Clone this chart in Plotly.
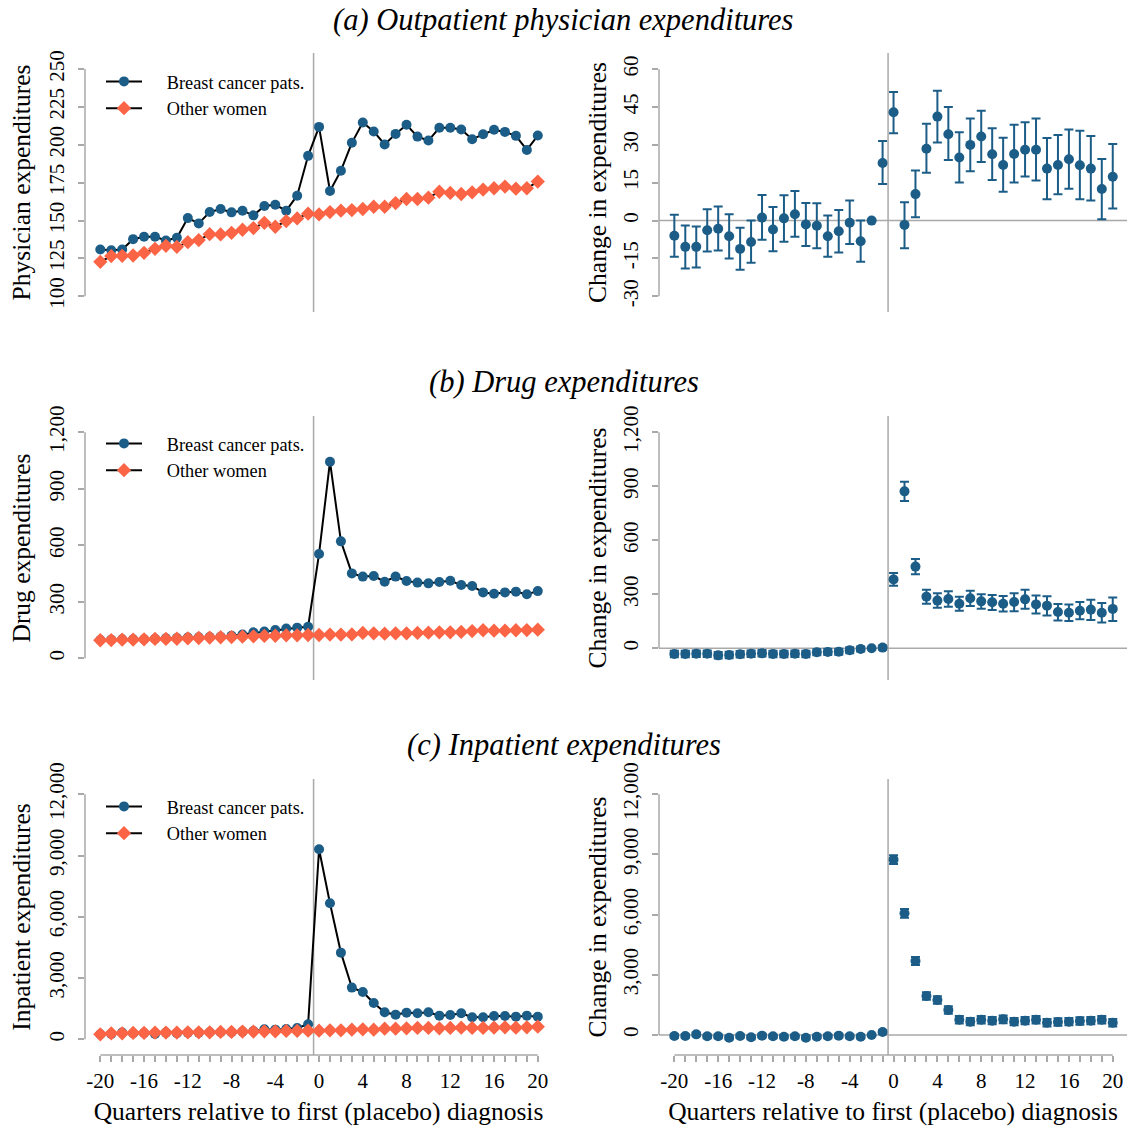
import plotly.graph_objects as go
from plotly.subplots import make_subplots

# quarters relative to first (placebo) diagnosis
quarters = list(range(-20, 21))

# (a) outpatient physician expenditures
phys_bc = [130.9, 130.4, 130.9, 137.7, 139.3, 139.3, 136.8, 138.6, 151.6, 148.1, 155.6, 157.6, 155.4, 156.5,
           153.4, 159.6, 160.4, 156.5, 166.4, 192.7, 211.8, 169.5, 182.9, 201.3, 214.7, 208.8, 200.2, 207.2,
           213.2, 205.4, 202.8, 211.2, 211.2, 210.1, 203.7, 207.0, 209.9, 208.5, 205.9, 196.6, 206.1]
phys_other = [122.7, 126.5, 126.7, 126.9, 128.7, 131.3, 133.3, 132.6, 135.7, 137.1, 141.0, 140.8, 141.9, 143.9,
              145.0, 148.5, 145.9, 149.6, 151.4, 154.5, 154.0, 155.6, 156.5, 156.9, 157.6, 159.1, 159.1, 161.5,
              164.2, 164.2, 165.1, 169.0, 168.2, 167.5, 168.6, 170.4, 171.3, 172.4, 171.0, 171.3, 175.7]
phys_est = [-6.0, -10.4, -10.4, -3.8, -3.2, -6.2, -11.2, -8.5, 1.2, -3.5, 0.9, 2.5, -1.5, -2.0, -6.2, -4.2,
            -0.8, -8.2, 0.0, 22.8, 42.9, -1.7, 10.5, 28.5, 41.2, 34.2, 25.0, 30.0, 33.3, 26.3, 22.0, 26.4,
            28.1, 28.1, 20.6, 22.0, 24.3, 21.9, 20.6, 12.5, 17.4]
phys_hi = [2.3, -1.9, -2.3, 4.5, 5.6, 2.5, -2.8, 0.0, 10.1, 5.4, 10.0, 11.7, 7.0, 6.9, 2.0, 4.2, 8.0, 0.0,
           None, 31.5, 51.0, 7.3, 19.9, 38.4, 51.4, 45.0, 35.0, 40.5, 43.5, 36.6, 32.8, 38.0, 39.0, 40.5,
           32.7, 33.9, 36.1, 35.6, 33.5, 24.4, 30.4]
phys_lo = [-14.3, -19.0, -18.6, -12.2, -11.8, -15.0, -19.5, -16.7, -7.6, -12.1, -8.4, -6.4, -10.1, -10.9,
           -14.3, -12.6, -9.3, -16.3, None, 14.5, 34.6, -10.9, 1.3, 19.0, 30.9, 24.0, 15.1, 19.6, 23.2, 16.1,
           11.4, 15.1, 17.5, 15.9, 8.5, 10.4, 12.6, 8.5, 8.0, 0.5, 4.8]

# (b) drug expenditures
drug_bc = [97, 99, 101, 101, 101, 104, 106, 108, 110, 112, 113, 115, 120, 127, 138, 142, 150, 158, 163, 168,
           554, 1044, 621, 451, 434, 437, 407, 434, 411, 402, 398, 405, 412, 389, 384, 350, 343, 350, 354,
           340, 357]
drug_other = [96, 97, 99, 99, 101, 103, 103, 104, 106, 108, 110, 112, 113, 115, 117, 119, 120, 122, 122, 124,
              124, 126, 126, 127, 135, 133, 131, 133, 133, 135, 136, 138, 138, 140, 145, 149, 147, 147, 149,
              150, 152]
drug_est = [-31, -31, -30, -30, -39, -37, -33, -30, -28, -31, -31, -30, -31, -22, -20, -19, -11, -4, 0, 4,
            383, 872, 454, 287, 265, 274, 248, 278, 261, 256, 248, 257, 272, 244, 237, 202, 198, 209, 215,
            198, 219]
drug_hi = [-13, -13, -12, -12, -21, -19, -15, -12, -10, -13, -13, -12, -13, -5, -3, -2, 6, 10, None, 16,
           419, 926, 496, 326, 306, 317, 287, 320, 300, 296, 291, 306, 326, 294, 289, 246, 244, 257, 270,
           252, 283]
drug_lo = [-49, -49, -48, -48, -57, -55, -51, -48, -46, -49, -49, -48, -49, -39, -37, -36, -28, -18, None, -8,
           348, 819, 411, 248, 226, 231, 209, 235, 220, 213, 204, 206, 220, 194, 183, 154, 152, 161, 157,
           144, 152]

# (c) inpatient expenditures
inpat_bc = [245, 261, 327, 294, 310, 261, 327, 294, 327, 327, 343, 343, 343, 376, 408, 490, 473, 506, 555, 735,
            9306, 6661, 4245, 2531, 2318, 1780, 1322, 1208, 1306, 1273, 1322, 1159, 1192, 1273, 1078, 1078,
            1143, 1143, 1110, 1159, 1110]
inpat_other = [245, 294, 294, 310, 310, 327, 327, 327, 343, 343, 343, 359, 359, 376, 376, 392, 392, 408, 408,
               424, 424, 441, 441, 473, 490, 473, 522, 522, 539, 555, 555, 539, 555, 571, 555, 555, 571, 588,
               571, 588, 620]
inpat_est = [-50, -50, 33, -66, -66, -133, -50, -116, -33, -66, -83, -66, -133, -83, -66, -33, -66, -83, 0, 150,
             8742, 6066, 3690, 1944, 1745, 1246, 764, 665, 764, 715, 781, 665, 715, 764, 615, 648, 665, 698,
             715, 764, 615]
inpat_hi = [40, 40, 123, 24, 24, -43, 40, -26, 57, 24, 7, 24, -43, 7, 24, 57, 24, 7, None, 240,
            8958, 6280, 3890, 2130, 1930, 1430, 950, 850, 950, 900, 970, 850, 900, 950, 800, 835, 850, 885,
            900, 950, 800]
inpat_lo = [-140, -140, -57, -156, -156, -223, -140, -206, -123, -156, -173, -156, -223, -173, -156, -123,
            -156, -173, None, 60, 8526, 5850, 3490, 1760, 1560, 1060, 578, 480, 578, 530, 592, 480, 530, 578,
            430, 461, 480, 511, 530, 578, 430]

panel_titles = ["(a) Outpatient physician expenditures", "(b) Drug expenditures", "(c) Inpatient expenditures"]
level_titles = ["Physician expenditures", "Drug expenditures", "Inpatient expenditures"]
change_title = "Change in expenditures"
x_title = "Quarters relative to first (placebo) diagnosis"
series_names = ["Breast cancer pats.", "Other women"]

left_ticks = [[100, 125, 150, 175, 200, 225, 250], [0, 300, 600, 900, 1200], [0, 3000, 6000, 9000, 12000]]
right_ticks = [[-30, -15, 0, 15, 30, 45, 60], [0, 300, 600, 900, 1200], [0, 3000, 6000, 9000, 12000]]

BLUE = "#1c5d88"
ORANGE = "#fc6446"
GREY = "#a9a9a9"
FONT = "Liberation Serif"

levels = [(phys_bc, phys_other), (drug_bc, drug_other), (inpat_bc, inpat_other)]
changes = [(phys_est, phys_lo, phys_hi), (drug_est, drug_lo, drug_hi), (inpat_est, inpat_lo, inpat_hi)]

# layout positions (pixel based, 1127 x 1129)
W, H = 1127, 1129
row_px = [(53, 312), (416, 680), (779, 1055)]
left_x = [85 / W, 552 / W]
right_x = [659 / W, 1.0]
xrange_ = [-21.4, 21.3]
left_yr = [[89.6, 260.6], [-115, 1286.6], [-769, 12749]]
right_yr = [[-36.2, 66.4], [-176, 1290.6], [-997, 12763]]
title_py = [20, 382, 745]
legend_py = [63, 425, 788]
title_standoff = [6, 4]

fig = make_subplots(rows=3, cols=2)

shapes = []
for r in range(3):
    bc, other = levels[r]
    leg = "legend" if r == 0 else "legend%d" % (r + 1)
    fig.add_trace(go.Scatter(x=quarters, y=bc, mode="lines+markers", name="\u2003\u200a" + series_names[0],
                             legend=leg, line=dict(color="black", width=2),
                             marker=dict(symbol="circle", size=10, color=BLUE)), row=r + 1, col=1)
    fig.add_trace(go.Scatter(x=quarters, y=other, mode="lines+markers", name="\u2003\u200a" + series_names[1],
                             legend=leg, line=dict(color="black", width=2),
                             marker=dict(symbol="diamond", size=11, color=ORANGE)), row=r + 1, col=1)

    est, lo, hi = changes[r]
    up = [None if h is None else h - e for h, e in zip(hi, est)]
    dn = [None if l is None else e - l for l, e in zip(lo, est)]
    fig.add_trace(go.Scatter(x=quarters, y=est, mode="markers", showlegend=False,
                             marker=dict(symbol="circle", size=10, color=BLUE),
                             error_y=dict(type="data", array=up, arrayminus=dn, symmetric=False,
                                          color=BLUE, thickness=2, width=4.5)), row=r + 1, col=2)

    y0, y1 = row_px[r]
    dom = [1 - y1 / H, 1 - y0 / H]
    for c, (xd, yr, tv, ytitle) in enumerate([(left_x, left_yr[r], left_ticks[r], level_titles[r]),
                                              (right_x, right_yr[r], right_ticks[r], change_title)]):
        n = r * 2 + c + 1
        sx = "" if n == 1 else str(n)
        fig.update_xaxes(domain=xd, range=xrange_, showgrid=False, zeroline=False, showline=False,
                         row=r + 1, col=c + 1)
        if r == 2:
            fig.update_xaxes(tickmode="array", tickvals=quarters,
                             ticktext=[str(q) if q % 4 == 0 else "" for q in quarters],
                             ticks="outside", ticklen=6, tickwidth=1.5, tickcolor=GREY,
                             ticklabelstandoff=1,
                             tickfont=dict(family=FONT, size=21, color="black"),
                             title=dict(text=x_title, font=dict(family=FONT, size=25.5, color="black"),
                                        standoff=9),
                             row=r + 1, col=c + 1)
        else:
            fig.update_xaxes(showticklabels=False, ticks="", row=r + 1, col=c + 1)
        fig.update_yaxes(domain=dom, range=yr, showgrid=False, zeroline=False, showline=False,
                         tickmode="array", tickvals=tv, ticktext=["{:,}".format(v) for v in tv],
                         tickangle=-90, ticks="outside", ticklen=6, tickwidth=1.5, tickcolor=GREY,
                         ticklabelstandoff=6,
                         tickfont=dict(family=FONT, size=21, color="black"),
                         title=dict(text=ytitle, font=dict(family=FONT, size=25.5, color="black"),
                                    standoff=title_standoff[c]),
                         automargin=False, row=r + 1, col=c + 1)
        # axis line only over the labelled range
        shapes.append(dict(type="line", xref="x%s domain" % sx, yref="y" + sx, x0=0, x1=0,
                           y0=tv[0], y1=tv[-1], line=dict(color=GREY, width=1.5)))
        # vertical line between quarter -1 and 0
        shapes.append(dict(type="line", xref="x" + sx, yref="y%s domain" % sx, x0=-0.5, x1=-0.5,
                           y0=0, y1=1, line=dict(color=GREY, width=1.5), layer="below"))
        if c == 1:
            shapes.append(dict(type="line", xref="x%s domain" % sx, yref="y" + sx, x0=0, x1=1,
                               y0=0, y1=0, line=dict(color=GREY, width=1.5), layer="below"))
        if r == 2:
            shapes.append(dict(type="line", xref="x" + sx, yref="y%s domain" % sx, x0=quarters[0],
                               x1=quarters[-1], y0=0, y1=0, line=dict(color=GREY, width=1.5)))

annotations = []
for r in range(3):
    annotations.append(dict(text="<i>%s</i>" % panel_titles[r], xref="paper", yref="paper", x=0.5,
                            y=1 - title_py[r] / H, xanchor="center", yanchor="middle", showarrow=False,
                            font=dict(family=FONT, size=30.5, color="black")))

legend_style = dict(x=101 / W, xanchor="left", yanchor="top", bgcolor="rgba(0,0,0,0)",
                    font=dict(family=FONT, size=18.3, color="black"), itemwidth=36, tracegroupgap=0)
fig.update_layout(
    width=W, height=H,
    margin=dict(l=0, r=0, t=0, b=0),
    plot_bgcolor="white", paper_bgcolor="white",
    shapes=shapes, annotations=annotations,
    legend=dict(y=1 - legend_py[0] / H, **legend_style),
    legend2=dict(y=1 - legend_py[1] / H, **legend_style),
    legend3=dict(y=1 - legend_py[2] / H, **legend_style),
)

fig.write_html("out.html", config={"displayModeBar": False},
               post_script="document.body.style.margin = '0';")
